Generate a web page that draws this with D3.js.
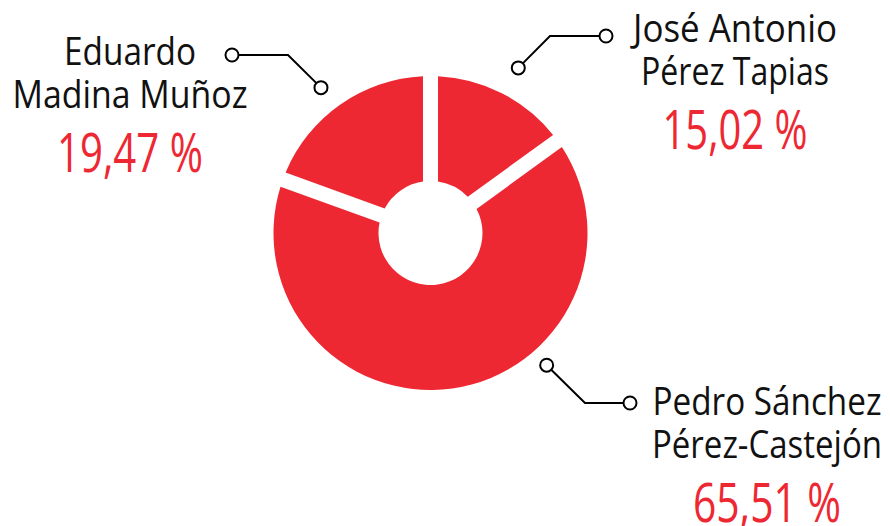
<!DOCTYPE html>
<html>
<head>
	<meta charset="utf-8">
	<script src="https://cdn.jsdelivr.net/npm/d3@7"></script>
	<style>
		body { margin: 0; background: #fff; }
	</style>
</head>
<body>
	<script>
		// data
		var names = [
			["José Antonio", "Pérez Tapias"],
			["Pedro Sánchez", "Pérez-Castejón"],
			["Eduardo", "Madina Muñoz"]
		];
		var values = [15.02, 65.51, 19.47];
		var pctLabels = ["15,02 %", "65,51 %", "19,47 %"];

		var w = 890, h = 526;
		var cx = 430.5, cy = 233;
		var outerR = 157, innerR = 52;
		var gap = 15;
		var red = "#ee2833";

		// label layout: dot angle (deg, clockwise from top) + radius, elbow, end dot, text centre
		var layout = [
			{ ang: 28, r: 187, elbow: [550, 36], end: [606, 36], tx: 735, ty: 42, widths: [204, 188, 145] },
			{ ang: 138.7, r: 176, elbow: [585, 403], end: [630, 403], tx: 767, ty: 415, widths: [229, 230, 148] },
			{ ang: 323, r: 182, elbow: [288, 55], end: [232, 55], tx: 130, ty: 65, widths: [132, 235, 146] }
		];

		var svg = d3.select("body").append("svg")
			.attr("width", w)
			.attr("height", h);

		var pie = d3.pie().sort(null).value(function(d) { return d; });
		var arcs = pie(values);

		var arc = d3.arc()
			.innerRadius(innerR)
			.outerRadius(outerR)
			.padRadius(outerR)
			.padAngle(gap / outerR);

		var g = svg.append("g").attr("transform", "translate(" + cx + "," + cy + ")");

		g.selectAll("path")
			.data(arcs)
			.enter().append("path")
			.attr("d", arc)
			.style("fill", red);

		//connectors
		layout.forEach(function(l, i) {
			var a = l.ang * Math.PI / 180;
			var p0 = [cx + Math.sin(a) * l.r, cy - Math.cos(a) * l.r];

			svg.append("polyline")
				.attr("points", [p0, l.elbow, l.end].map(function(p) { return p.join(","); }).join(" "))
				.style("fill", "none")
				.style("stroke", "#000")
				.style("stroke-width", 2);

			[p0, l.end].forEach(function(p) {
				svg.append("circle")
					.attr("cx", p[0])
					.attr("cy", p[1])
					.attr("r", 6.5)
					.style("fill", "#fff")
					.style("stroke", "#000")
					.style("stroke-width", 2);
			});

			var lines = names[i];
			lines.forEach(function(t, j) {
				svg.append("text")
					.attr("x", l.tx)
					.attr("y", l.ty + j * 43)
					.attr("text-anchor", "middle")
					.attr("textLength", l.widths[j])
					.attr("lengthAdjust", "spacingAndGlyphs")
					.style("font-family", "'Open Sans', sans-serif")
					.style("font-size", "38px")
					.style("fill", "#111")
					.text(t);
			});

			svg.append("text")
				.attr("x", l.tx)
				.attr("y", l.ty + 107)
				.attr("text-anchor", "middle")
				.attr("textLength", l.widths[2])
				.attr("lengthAdjust", "spacingAndGlyphs")
				.style("font-family", "'Open Sans', sans-serif")
				.style("font-size", "55px")
				.style("fill", red)
				.text(pctLabels[i]);
		});
	</script>
</body>
</html>
